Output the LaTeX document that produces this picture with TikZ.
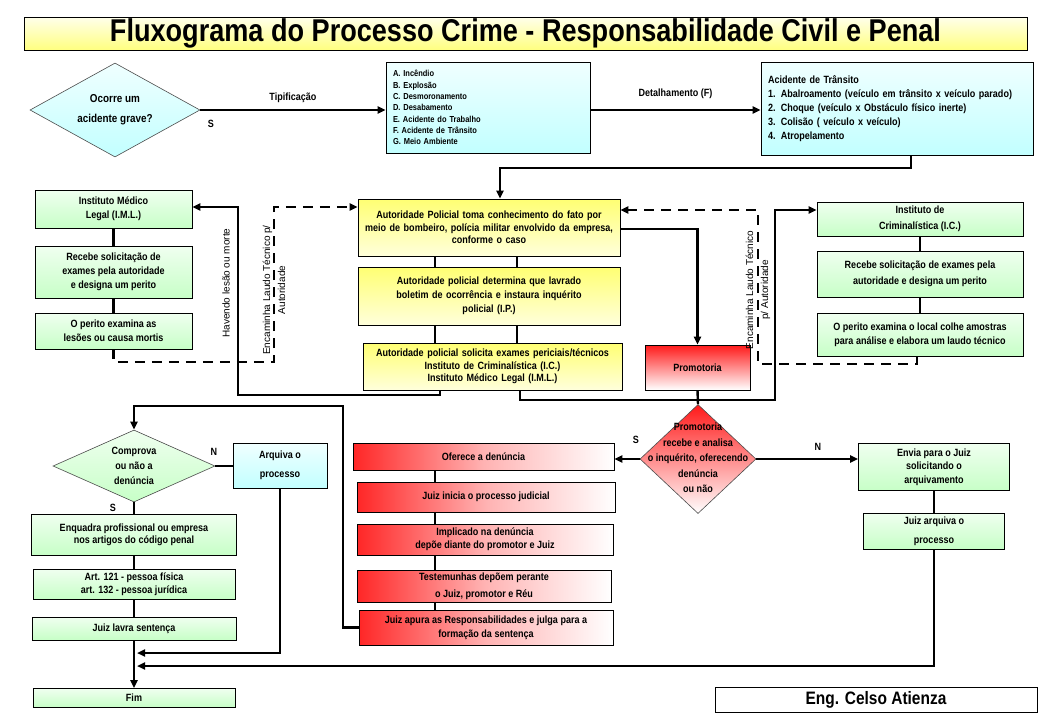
\documentclass[tikz,border=0pt]{standalone}
\usepackage{fontspec}
\setmainfont{Liberation Sans}
\newfontfamily\nb[FakeStretch=0.86]{Liberation Sans}
\usetikzlibrary{arrows.meta,shapes.geometric}
\newcommand{\bxf}[1]{\nb\bfseries\fontsize{10.5}{#1}\selectfont}
\newcommand{\bxs}[1]{\nb\bfseries\fontsize{8.7}{#1}\selectfont}
\begin{document}
\begin{tikzpicture}[x=1pt,y=-1pt,
  box/.style={draw=black,line width=0.7pt,inner sep=1pt,align=center},
  cbox/.style={top color=cyan!6!white,bottom color=cyan!24!white},
  gbox/.style={top color=green!6!white,bottom color=green!22!white},
  ybox/.style={top color=yellow!55!white,bottom color=yellow!14!white},
  rbox/.style={left color=red!85!white,right color=white,middle color=red!30!white},
  rvbox/.style={top color=red!90!white,bottom color=white},
  diam/.style={diamond,draw=black!70,line width=0.6pt,inner sep=0pt},
  ln/.style={line width=2.4pt},
  dsh/.style={line width=2.4pt,dash pattern=on 10pt off 7pt},
  arr/.style={-{Triangle[length=8pt,width=7pt]}},
  lbl/.style={font={\bxf{12}}},
  vlab/.style={rotate=90,align=center,font=\fontsize{10}{15}\selectfont}]
\useasboundingbox (0,0) rectangle (1044,720);
\fill[white] (0,0) rectangle (1044,720);

% title
\node[box,line width=0.9pt,top color=yellow!8!white,bottom color=yellow!50!white,minimum width=1003,minimum height=33,inner sep=0pt,font=\nb\bfseries\fontsize{31.5}{32}\selectfont] (title) at (525.5,33.5) {Fluxograma do Processo Crime - Responsabilidade Civil e Penal};

% top row
\node[diam,cbox,minimum width=170,minimum height=94] (d1) at (115,110) {};
\node[font={\nb\bfseries\fontsize{11.5}{20}\selectfont},align=center] (d1t) at (d1.center) {Ocorre um\\acidente grave?};
\node[box,cbox,minimum width=204,minimum height=91,text width=190,inner xsep=7,align=left,font={\bxs{11.3}}] (ag) at (488,107.5) {A. Incêndio\\B. Explosão\\C. Desmoronamento\\D. Desabamento\\E. Acidente do Trabalho\\F. Acidente de Trânsito\\G. Meio Ambiente};
\node[box,cbox,minimum width=272,minimum height=93,text width=258,inner xsep=7,align=left,font={\bxf{14}}] (tr) at (897,108.5) {Acidente de Trânsito\\1. Abalroamento (veículo em trânsito x veículo parado)\\2. Choque (veículo x Obstáculo físico inerte)\\3. Colisão ( veículo x veículo)\\4. Atropelamento};

% central yellow
\node[box,ybox,minimum width=262,minimum height=57,text width=256,font={\bxf{12.5}}] (b1) at (489,227.5) {Autoridade Policial toma conhecimento do fato por\\meio de bombeiro, polícia militar envolvido da empresa,\\conforme o caso};
\node[box,ybox,minimum width=262,minimum height=58,text width=256,font={\bxf{14}}] (b2) at (489,296) {Autoridade policial determina que lavrado\\boletim de ocorrência e instaura inquérito\\policial (I.P.)};
\node[box,ybox,minimum width=259,minimum height=47,text width=254,font={\bxf{12.5}}] (b3) at (492.5,366.5) {Autoridade policial solicita exames periciais/técnicos\\Instituto de Criminalística (I.C.)\\Instituto Médico Legal (I.M.L.)};
\node[box,rvbox,minimum width=105,minimum height=45,font={\bxf{12}}] (prom) at (697.5,367.5) {Promotoria};

% left IML
\node[box,gbox,minimum width=157,minimum height=38,font={\bxf{14}}] (iml1) at (113.5,209) {Instituto Médico\\Legal (I.M.L.)};
\node[box,gbox,minimum width=157,minimum height=52,font={\bxf{14}}] (iml2) at (113.5,272) {Recebe solicitação de\\exames pela autoridade\\e designa um perito};
\node[box,gbox,minimum width=157,minimum height=36,font={\bxf{14}}] (iml3) at (113.5,331) {O perito examina as\\lesões ou causa mortis};

% right IC
\node[box,gbox,minimum width=206,minimum height=34,font={\bxf{16}}] (ic1) at (920,219) {Instituto de\\Criminalística (I.C.)};
\node[box,gbox,minimum width=206,minimum height=46,font={\bxf{16}}] (ic2) at (920,274) {Recebe solicitação de exames pela\\autoridade e designa um perito};
\node[box,gbox,minimum width=206,minimum height=43,font={\bxf{14}}] (ic3) at (920,334.5) {O perito examina o local colhe amostras\\para análise e elabora um laudo técnico};

% promotoria decision
\node[diam,rvbox,minimum width=116,minimum height=109] (d2) at (698,459) {};
\node[font={\bxf{15.5}},align=center] (d2t) at ([yshift=1pt]d2.center) {Promotoria\\recebe e analisa\\o inquérito, oferecendo\\denúncia\\ou não};

% red chain
\node[box,rbox,minimum width=261,minimum height=27,font={\bxf{12}}] (ofer) at (483.5,456.5) {Oferece a denúncia};
\node[box,rbox,minimum width=258,minimum height=30,font={\bxf{12}}] (ini) at (486,497) {Juiz inicia o processo judicial};
\node[box,rbox,minimum width=256,minimum height=31,font={\bxf{13}}] (impl) at (485,539.5) {Implicado na denúncia\\depõe diante do promotor e Juiz};
\node[box,rbox,minimum width=254,minimum height=32,font={\bxf{17}}] (test) at (484,586.5) {Testemunhas depõem perante\\o Juiz, promotor e Réu};
\node[box,rbox,minimum width=254,minimum height=35,font={\bxf{14}}] (apura) at (486,627.5) {Juiz apura as Responsabilidades e julga para a\\formação da sentença};

% right archive
\node[box,gbox,minimum width=151,minimum height=47,font={\bxf{13.5}}] (envia) at (934,467) {Envia para o Juiz\\solicitando o\\arquivamento};
\node[box,gbox,minimum width=141,minimum height=36,font={\bxf{19}}] (jarq) at (934,531) {Juiz arquiva o\\processo};

% left bottom
\node[diam,gbox,minimum width=162,minimum height=72] (d3) at (134,466) {};
\node[font={\bxf{15}},align=center] (d3t) at (d3.center) {Comprova\\ou não a\\denúncia};
\node[box,cbox,minimum width=94,minimum height=45,font={\bxf{19}}] (arq) at (280,465.5) {Arquiva o\\processo};
\node[box,gbox,minimum width=205,minimum height=41,font={\bxf{12}}] (enq) at (134,535) {Enquadra profissional ou empresa\\nos artigos do código penal};
\node[box,gbox,minimum width=202,minimum height=30,font={\bxf{13}}] (art) at (134,584) {Art. 121 - pessoa física\\art. 132 - pessoa jurídica};
\node[box,gbox,minimum width=204,minimum height=23,font={\bxf{12}}] (lavra) at (134,628.5) {Juiz lavra sentença};
\node[box,gbox,minimum width=202,minimum height=19,font={\bxf{12}}] (fim) at (134,698) {Fim};

\node[box,line width=0.8pt,fill=white,minimum width=322,minimum height=25,inner sep=0pt,font=\nb\bfseries\fontsize{18}{19}\selectfont] (eng) at (876,699.5) {Eng. Celso Atienza};

% coordinates
\coordinate (t1) at (911,168);
\coordinate (t2) at (500,168);
\coordinate (xa) at (435,0);
\coordinate (xb) at (517,0);
\coordinate (xr) at (435,0);
\coordinate (dl1) at (274,362);
\coordinate (dl2) at (274,207);
\coordinate (sl1) at (440,395);
\coordinate (sl2) at (238,395);
\coordinate (sl3) at (238,207);
\coordinate (sr1) at (520,400);
\coordinate (sr2) at (775,400);
\coordinate (sr3) at (775,210);
\coordinate (dr1) at (917,364);
\coordinate (dr2) at (758,364);
\coordinate (dr3) at (758,210);
\coordinate (p1) at (697.5,229);
\coordinate (ap2) at (343,406);
\coordinate (ml1) at (137,653);
\coordinate (ml2) at (137,666);

% connectors
\draw[ln,arr] (d1.east) -- (ag.west |- d1.east) node[midway,above=3pt,lbl] (tip) {Tipificação};
\node[lbl] (s1) at (211,124) {S};
\draw[ln,arr] (ag.east |- d1.east) -- (tr.west |- d1.east) node[midway,above=7pt,lbl] (det) {Detalhamento (F)};
\draw[ln,arr] (tr.south -| t1) -- (t1) -- (t2) -- (b1.north -| t2);

\draw[ln] (b1.south -| xa) -- (b2.north -| xa);
\draw[ln] (b1.south -| xb) -- (b2.north -| xb);
\draw[ln] (b2.south -| xa) -- (b3.north -| xa);
\draw[ln] (b2.south -| xb) -- (b3.north -| xb);

\draw[ln] (iml1.south) -- (iml2.north);
\draw[ln] (iml2.south) -- (iml3.north);
\draw[ln] (ic1.south) -- (ic2.north);
\draw[ln] (ic2.south) -- (ic3.north);

\draw[ln,arr] (b1.east |- p1) -- (p1) -- (prom.north);
\draw[ln] (prom.south) -- (d2.north);

\draw[dsh,arr] (iml3.south) |- (dl1) -- (dl2) -- (b1.west |- dl2);
\draw[ln,arr] (b3.south -| sl1) -- (sl1) -- (sl2) -- (sl3) -- (iml1.east |- sl3);
\draw[ln,arr] (b3.south -| sr1) -- (sr1) -- (sr2) -- (sr3) -- (ic1.west |- sr3);
\draw[dsh,arr] (ic3.south -| dr1) -- (dr1) -- (dr2) -- (dr3) -- (b1.east |- dr3);

\node[vlab] (lab1) at (226,283) {Havendo lesão ou morte};
\node[vlab] (lab2) at (274,290) {Encaminha Laudo Técnico p/\\Autoridade};
\node[vlab] (lab3) at (758,290) {Encaminha Laudo Técnico\\p/ Autoridade};

\draw[ln,arr] (d2.west) -- (ofer.east |- d2.west);
\node[lbl] (s2) at (636,440) {S};
\draw[ln,arr] (d2.east) -- (envia.west |- d2.east);
\node[lbl] (n2) at (818,447) {N};
\draw[ln] (envia.south) -- (jarq.north);

\draw[ln] (ofer.south -| xr) -- (ini.north -| xr);
\draw[ln] (ini.south -| xr) -- (impl.north -| xr);
\draw[ln] (impl.south -| xr) -- (test.north -| xr);
\draw[ln] (test.south -| xr) -- (apura.north -| xr);

\draw[ln,arr] (apura.west) -| (ap2) -| (d3.north);
\draw[ln] (d3.east) -- (arq.west |- d3.east);
\node[lbl] (n3) at (214,452) {N};
\node[lbl] (s3) at (113,508) {S};
\draw[ln] (d3.south) -- (enq.north);
\draw[ln] (enq.south) -- (art.north);
\draw[ln] (art.south) -- (lavra.north);
\draw[ln,arr] (lavra.south) -- (fim.north);
\draw[ln,arr] (arq.south) |- (ml1);
\draw[ln,arr] (jarq.south) |- (ml2);
\end{tikzpicture}
\end{document}
